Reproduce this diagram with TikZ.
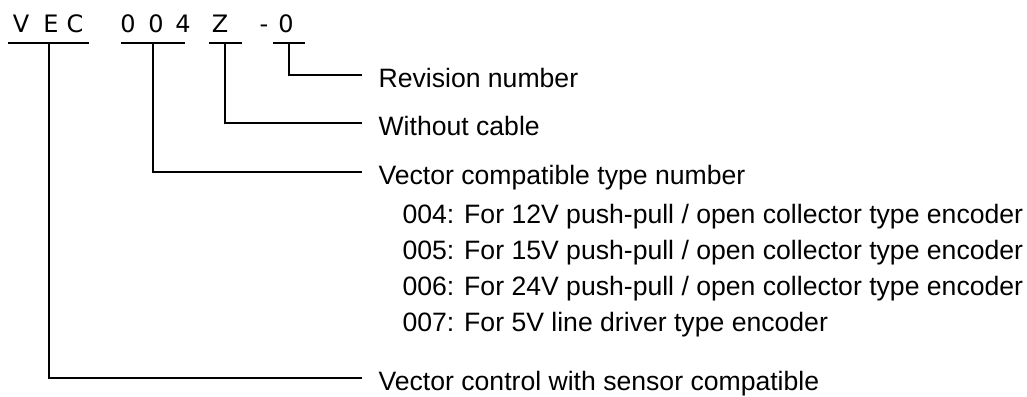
\documentclass[tikz,border=0pt]{standalone}
\usepackage{fontspec}
\setmainfont{Liberation Sans}
\newfontfamily\codefont{DejaVu Sans}
\usetikzlibrary{positioning,calc}

\begin{document}
\begin{tikzpicture}[x=1pt,y=-1pt,line width=1.2pt,
  code/.style={font=\codefont\fontsize{24}{24}\selectfont,anchor=base,inner sep=0pt},
  lbl/.style={font=\fontsize{26.6}{26.6}\selectfont,anchor=base west,inner sep=0pt}]
\useasboundingbox (0,0) rectangle (1027,396);
% model code
\node[code] (v) at (21,33) {V};
\node[code] (e) at (51,33) {E};
\node[code] (c) at (75,33) {C};
\node[code] (na) at (128,33) {0};
\node[code] (nb) at (156,33) {0};
\node[code] (nc) at (183,33) {4};
\node[code] (z) at (220,33) {Z};
\node[code] (dash) at (264,33) {-};
\node[code] (r) at (286,33) {0};
% underlines
\draw (8,43) -- (89,43);
\draw (121,43) -- (185,43);
\draw (209,43) -- (242,43);
\draw (273,43) -- (305,43);
\coordinate (uvec) at (49,43);
\coordinate (utype) at (153,43);
\coordinate (ucab) at (225,43);
\coordinate (urev) at (289,43);
% labels
\node[lbl] (rev) at (378,87) {Revision number};
\node[lbl] (cab) at (378,135) {Without cable};
\node[lbl] (type) at (378,184) {Vector compatible type number};
\node[lbl] (t4) at (402,223) {004: For 12V push-pull / open collector type encoder};
\node[lbl] (t5) at (402,259) {005: For 15V push-pull / open collector type encoder};
\node[lbl] (t6) at (402,295) {006: For 24V push-pull / open collector type encoder};
\node[lbl] (t7) at (402,331) {007: For 5V line driver type encoder};
\node[lbl] (vec) at (378,390) {Vector control with sensor compatible};
\coordinate (erev) at (362,75);
\coordinate (ecab) at (362,123);
\coordinate (etype) at (362,172);
\coordinate (evec) at (362,378);
% leaders
\draw (urev) |- (erev);
\draw (ucab) |- (ecab);
\draw (utype) |- (etype);
\draw (uvec) |- (evec);
\end{tikzpicture}
\end{document}
